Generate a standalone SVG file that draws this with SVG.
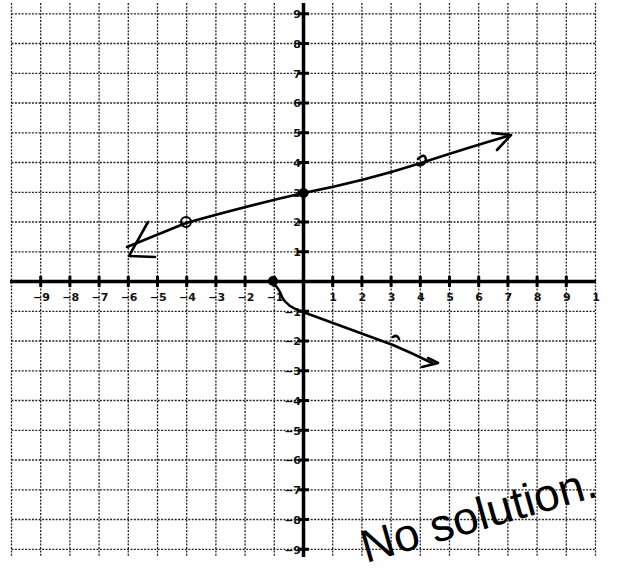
<svg xmlns="http://www.w3.org/2000/svg" width="629" height="578" viewBox="0 0 629 578">
<style>
.g{stroke:#222;stroke-width:1.3;stroke-dasharray:2 1.4;fill:none}
.ax{stroke:#000;stroke-width:3.5;fill:none}
.tk{stroke:#000;stroke-width:3}
.ink{stroke:#000;stroke-width:2.6;fill:none;stroke-linecap:round;stroke-linejoin:round}
.lx{font-family:"DejaVu Sans",sans-serif;font-size:11px;font-weight:bold;fill:#111;text-anchor:middle}
.ly{font-family:"DejaVu Sans",sans-serif;font-size:11px;font-weight:bold;fill:#111;text-anchor:end}
.hw{font-family:"Liberation Sans",sans-serif;font-size:46px;fill:#000}
</style>
<rect width="629" height="578" fill="#fff"/>
<g id="grid">
<path class="g" d="M11.5 3V556M40.7 3V556M69.9 3V556M99.1 3V556M128.3 3V556M157.5 3V556M186.7 3V556M215.9 3V556M245.1 3V556M274.3 3V556M332.7 3V556M361.9 3V556M391.1 3V556M420.3 3V556M449.5 3V556M478.7 3V556M507.9 3V556M537.1 3V556M566.3 3V556M595.5 3V556"/>
<path class="g" d="M11.5 13.8H595.5M11.5 43.5H595.5M11.5 73.3H595.5M11.5 103H595.5M11.5 132.8H595.5M11.5 162.5H595.5M11.5 192.3H595.5M11.5 222H595.5M11.5 251.8H595.5M11.5 311.3H595.5M11.5 341H595.5M11.5 370.8H595.5M11.5 400.5H595.5M11.5 430.3H595.5M11.5 460H595.5M11.5 489.8H595.5M11.5 519.5H595.5M11.5 549.3H595.5"/>
</g>
<g id="axes">
<path class="ax" d="M10 281.5H596M303.5 3V557"/>
<path class="tk" d="M40.7 276V287M69.9 276V287M99.1 276V287M128.3 276V287M157.5 276V287M186.7 276V287M215.9 276V287M245.1 276V287M274.3 276V287M332.7 276V287M361.9 276V287M391.1 276V287M420.3 276V287M449.5 276V287M478.7 276V287M507.9 276V287M537.1 276V287M566.3 276V287"/>
<path class="tk" d="M298 13.8H309M298 43.5H309M298 73.3H309M298 103H309M298 132.8H309M298 162.5H309M298 192.3H309M298 222H309M298 251.8H309M298 311.3H309M298 341H309M298 370.8H309M298 400.5H309M298 430.3H309M298 460H309M298 489.8H309M298 519.5H309M298 549.3H309"/>
</g>
<g id="x-labels">
<text class="lx" x="41.5" y="301">−9</text><text class="lx" x="70.7" y="301">−8</text><text class="lx" x="99.9" y="301">−7</text><text class="lx" x="129.1" y="301">−6</text><text class="lx" x="158.3" y="301">−5</text><text class="lx" x="187.5" y="301">−4</text><text class="lx" x="216.7" y="301">−3</text><text class="lx" x="245.9" y="301">−2</text><text class="lx" x="275.1" y="301">−1</text>
<text class="lx" x="333.2" y="301">1</text><text class="lx" x="362.4" y="301">2</text><text class="lx" x="391.6" y="301">3</text><text class="lx" x="420.8" y="301">4</text><text class="lx" x="450" y="301">5</text><text class="lx" x="479.2" y="301">6</text><text class="lx" x="508.4" y="301">7</text><text class="lx" x="537.6" y="301">8</text><text class="lx" x="566.8" y="301">9</text><text class="lx" x="596" y="301">1</text>
</g>
<g id="y-labels">
<text class="ly" x="301" y="18">9</text><text class="ly" x="301" y="47.7">8</text><text class="ly" x="301" y="77.5">7</text><text class="ly" x="301" y="107.2">6</text><text class="ly" x="301" y="137">5</text><text class="ly" x="301" y="166.7">4</text><text class="ly" x="301" y="196.5">3</text><text class="ly" x="301" y="226.2">2</text><text class="ly" x="301" y="256">1</text>
<text class="ly" x="301" y="315.5">−1</text><text class="ly" x="301" y="345.2">−2</text><text class="ly" x="301" y="375">−3</text><text class="ly" x="301" y="404.7">−4</text><text class="ly" x="301" y="434.5">−5</text><text class="ly" x="301" y="464.2">−6</text><text class="ly" x="301" y="494">−7</text><text class="ly" x="301" y="523.7">−8</text><text class="ly" x="301" y="553.5">−9</text>
</g>
<g id="connectors">
<g id="line-1">
<path class="ink" d="M127 247 L186 223 Q250 205 303.5 193 Q365 181 421 163 Q470 147 508 136"/>
<path class="ink" d="M148 222 L129 256 L155 257"/>
<path class="ink" d="M492 133 L511 135 L497 150"/>
<circle cx="303.5" cy="193" r="5" fill="#000"/>
<circle cx="186" cy="222" r="5" fill="none" stroke="#000" stroke-width="2"/>
<path class="ink" stroke-width="1.8" d="M418 159 Q425 152 426 160 Q424 166 418 165"/>
</g>
<g id="line-2">
<path class="ink" d="M272 281 Q280 290 282 297 Q287 307 303 312 L393 345 Q412 353 432 363"/>
<path class="ink" d="M428 358 L438 363 L422 367"/>
<circle cx="273" cy="281" r="5" fill="#000"/>
<path class="ink" stroke-width="1.6" d="M393 337 Q397 334 399 339"/>
</g>
</g>
<g id="note">
<text class="hw" transform="translate(366 563) rotate(-16)">No solution.</text>
</g>
</svg>
